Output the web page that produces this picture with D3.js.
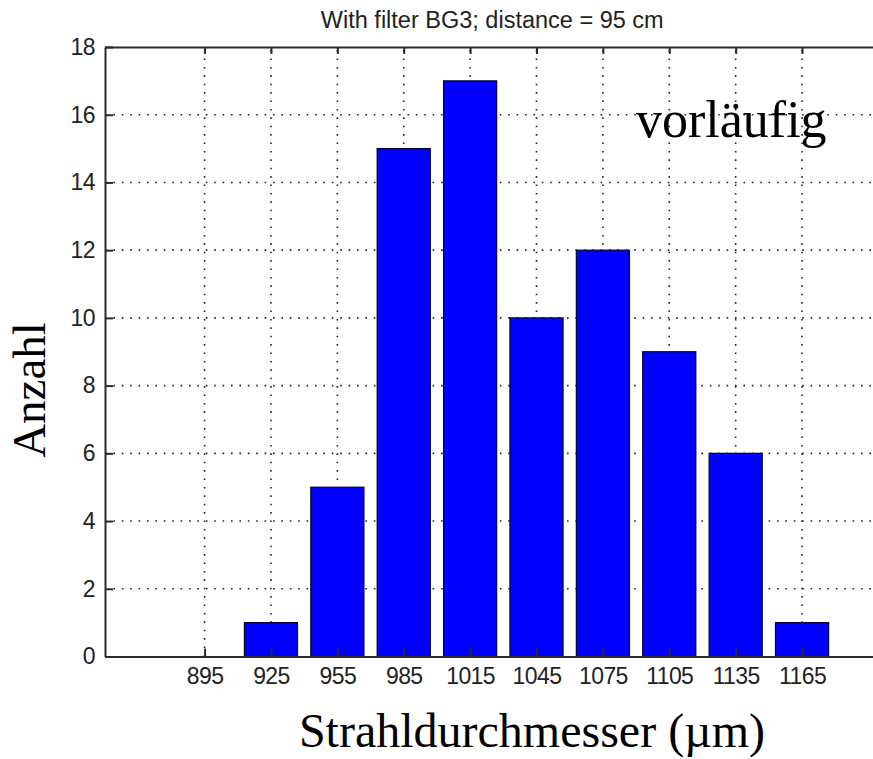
<!DOCTYPE html>
<html>
<head>
<meta charset="utf-8">
<script src="https://cdn.jsdelivr.net/npm/d3@7"></script>
<style>
  html, body { margin: 0; padding: 0; background: #fff; }
  svg { display: block; }
</style>
</head>
<body>
<svg id="chart" width="873" height="759"></svg>
<script>
// Histogram of beam diameters (bin centres in µm) and their counts
const binCenters = [895, 925, 955, 985, 1015, 1045, 1075, 1105, 1135, 1165];
const counts     = [0, 1, 5, 15, 17, 10, 12, 9, 6, 1];
const yTicks     = [0, 2, 4, 6, 8, 10, 12, 14, 16, 18];
const xDomain    = [850, 1200];
const yDomain    = [0, 18];
const binWidth   = 30;

const titleText  = "With filter BG3; distance = 95 cm";
const xLabelText = "Strahldurchmesser (\u00B5m)";
const yLabelText = "Anzahl";
const noteText   = "vorläufig";

const svg = d3.select("#chart");
const plot = { left: 105, right: 879.5, top: 47, bottom: 656.5 };

const x = d3.scaleLinear().domain(xDomain).range([plot.left, plot.right]);
const y = d3.scaleLinear().domain(yDomain).range([plot.bottom, plot.top]);

const sansFont = "'Liberation Sans', Arial, sans-serif";
const serifFont = "'Liberation Serif', 'Times New Roman', serif";

// Dotted grid
const grid = svg.append("g").attr("class", "grid")
  .attr("stroke", "#222").attr("stroke-width", 1.6)
  .attr("stroke-dasharray", "1.6 6.8");
grid.selectAll("line.v").data(binCenters).join("line")
  .attr("class", "v")
  .attr("x1", d => x(d)).attr("x2", d => x(d))
  .attr("y1", plot.bottom).attr("y2", plot.top);
grid.selectAll("line.h").data(yTicks.slice(1, -1)).join("line")
  .attr("class", "h")
  .attr("y1", d => y(d)).attr("y2", d => y(d))
  .attr("x1", plot.left).attr("x2", plot.right);

// Bars
const barW = x(xDomain[0] + binWidth * 0.8) - x(xDomain[0]);
svg.append("g").selectAll("rect").data(binCenters.map((c, i) => ({ c, n: counts[i] })))
  .join("rect")
  .attr("x", d => x(d.c) - barW / 2)
  .attr("width", barW)
  .attr("y", d => y(d.n))
  .attr("height", d => y(0) - y(d.n))
  .attr("fill", "#0000ff")
  .attr("stroke", d => d.n > 0 ? "#000033" : "none")
  .attr("stroke-width", 1.2);

// Axes: bottom, left and top (box), ticks pointing inward
const axisColor = "#2a2a2a";
const intFmt = d3.format("d");
const xAxis = d3.axisBottom(x).tickValues(binCenters).tickFormat(intFmt)
  .tickSizeInner(-8).tickSizeOuter(0).tickPadding(11);
const yAxis = d3.axisLeft(y).tickValues(yTicks).tickFormat(intFmt)
  .tickSizeInner(-8).tickSizeOuter(0).tickPadding(10);
const xTop = d3.axisTop(x).tickValues(binCenters).tickSizeInner(-7).tickSizeOuter(0).tickFormat("");

function styleAxis(g) {
  g.select(".domain").attr("stroke", axisColor).attr("stroke-width", 2);
  g.selectAll(".tick line").attr("stroke", axisColor).attr("stroke-width", 2);
  g.selectAll(".tick text").attr("fill", "#222")
    .style("font-family", sansFont).style("font-size", "23px")
    .style("letter-spacing", "-0.6px");
}

svg.append("g").attr("transform", `translate(0,${plot.bottom})`).call(xAxis).call(styleAxis)
  .selectAll(".tick text").attr("dy", "0.71em");
svg.append("g").attr("transform", `translate(${plot.left},0)`).call(yAxis).call(styleAxis);
svg.append("g").attr("transform", `translate(0,${plot.top})`).call(xTop).call(styleAxis);

// Right side of the box (falls at the edge of the drawing)
svg.append("line")
  .attr("x1", plot.right).attr("x2", plot.right)
  .attr("y1", plot.top).attr("y2", plot.bottom)
  .attr("stroke", axisColor).attr("stroke-width", 2);

// Title
svg.append("text")
  .attr("x", (plot.left + plot.right) / 2).attr("y", 28)
  .attr("text-anchor", "middle")
  .style("font-family", sansFont).style("font-size", "23.5px").attr("fill", "#222")
  .text(titleText);

// Axis labels
svg.append("text")
  .attr("x", 532).attr("y", 747)
  .attr("text-anchor", "middle")
  .style("font-family", serifFont).style("font-size", "48px").attr("fill", "#000")
  .text(xLabelText);

svg.append("text")
  .attr("transform", "translate(45,390) rotate(-90)")
  .attr("text-anchor", "middle")
  .style("font-family", serifFont).style("font-size", "47px").attr("fill", "#000")
  .text(yLabelText);

// Annotation
svg.append("text")
  .attr("x", 636).attr("y", 137)
  .style("font-family", serifFont).style("font-size", "52px").attr("fill", "#000")
  .text(noteText);
</script>
</body>
</html>
